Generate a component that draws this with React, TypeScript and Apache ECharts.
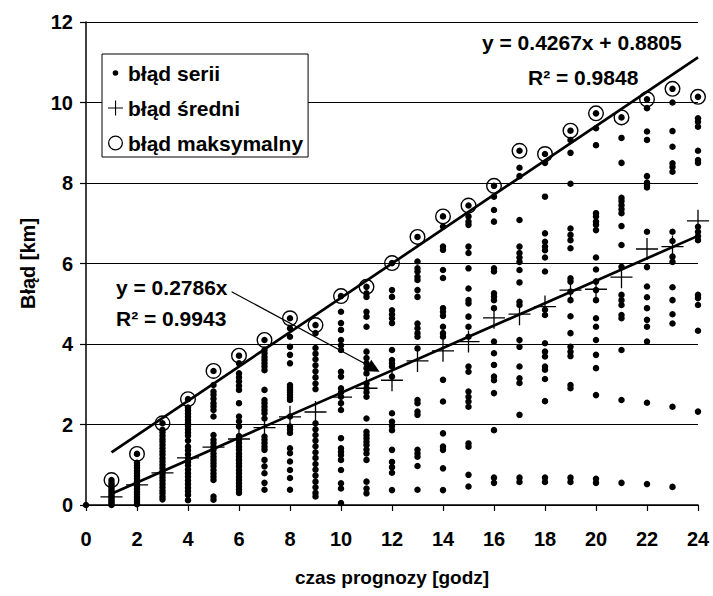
import { useEffect, useRef } from 'react';
import * as echarts from 'echarts';

const FONT = '"Liberation Sans", Arial, Helvetica, sans-serif';

// hours 1..24 (forecast time)
const HOURS = [1, 2, 3, 4, 5, 6, 7, 8, 9, 10, 11, 12, 13, 14, 15, 16, 17, 18, 19, 20, 21, 22, 23, 24];
const X_TICKS = [0, 2, 4, 6, 8, 10, 12, 14, 16, 18, 20, 22, 24];
const Y_TICKS = [0, 2, 4, 6, 8, 10, 12];

// mean error (crosses)
const MEAN_ERR = [0.2, 0.5, 0.8, 1.17, 1.44, 1.64, 1.92, 2.19, 2.31, 2.68, 2.9, 3.1, 3.58, 3.83, 4.06, 4.65, 4.74, 4.93, 5.34, 5.36, 5.66, 6.36, 6.42, 7.06];
// max error (circles)
const MAX_ERR = [0.62, 1.27, 2.03, 2.63, 3.33, 3.71, 4.1, 4.64, 4.47, 5.19, 5.42, 6.01, 6.66, 7.17, 7.44, 7.93, 8.8, 8.72, 9.3, 9.73, 9.63, 10.08, 10.34, 10.14];

// regression lines
const MAX_SLOPE = 0.4267;
const MAX_INTERCEPT = 0.8805;
const MEAN_SLOPE = 0.2786;

// individual series errors (dots), index = hour 0..24
const ERR_BY_HOUR: number[][] = [
  [0],
  [0.55, 0.5, 0.44, 0.38, 0.33, 0.27, 0.22, 0.17, 0.12, 0.08, 0.04, 0.0],
  [1.05, 0.98, 0.92, 0.85, 0.79, 0.72, 0.65, 0.58, 0.52, 0.46, 0.4, 0.33, 0.27, 0.2, 0.14, 0.08, 0.02],
  [1.87, 1.8, 1.72, 1.64, 1.57, 1.49, 1.41, 1.33, 1.25, 1.16, 1.08, 1.0, 0.92, 0.84, 0.76, 0.68, 0.6, 0.52, 0.44, 0.36, 0.29, 0.21, 0.14],
  [2.42, 2.35, 2.27, 2.19, 2.11, 2.04, 1.96, 1.88, 1.8, 1.72, 1.6, 1.45, 1.36, 1.26, 1.16, 1.07, 0.98, 0.88, 0.79, 0.7, 0.61, 0.52, 0.43, 0.34, 0.25, 0.12],
  [2.98, 2.82, 2.74, 2.64, 2.53, 2.45, 2.36, 2.2, 1.74, 1.62, 1.54, 1.45, 1.37, 1.28, 1.2, 1.12, 1.04, 0.96, 0.87, 0.78, 0.7, 0.62, 0.21, 0.13],
  [3.52, 3.27, 3.17, 3.07, 2.96, 2.86, 2.53, 2.2, 2.08, 1.95, 1.71, 1.62, 1.54, 1.45, 1.37, 1.28, 1.2, 1.12, 1.04, 0.96, 0.87, 0.79, 0.7, 0.62, 0.54, 0.46, 0.38, 0.3],
  [3.85, 3.77, 3.68, 3.6, 3.52, 3.44, 3.35, 2.86, 2.61, 2.53, 2.44, 2.36, 2.28, 2.15, 1.7, 1.62, 1.54, 1.45, 1.37, 1.12, 0.96, 0.79, 0.55, 0.38],
  [4.39, 4.18, 3.93, 3.73, 3.52, 2.98, 2.92, 2.86, 2.8, 2.74, 2.67, 2.61, 2.2, 1.95, 1.87, 1.79, 1.41, 1.29, 1.08, 0.87, 0.67, 0.38],
  [4.27, 3.9, 3.76, 3.62, 3.47, 3.32, 3.17, 3.02, 2.88, 2.03, 1.88, 1.74, 1.6, 1.46, 1.31, 1.17, 1.02, 0.88, 0.73, 0.58, 0.44, 0.3, 0.21],
  [4.8, 4.52, 4.35, 4.1, 3.97, 3.85, 3.31, 3.19, 2.9, 2.8, 2.69, 2.53, 2.36, 1.66, 1.41, 1.32, 1.24, 1.12, 0.87, 0.54, 0.41, 0.05],
  [5.26, 5.17, 4.8, 4.68, 4.43, 3.81, 3.65, 3.52, 3.4, 3.27, 3.02, 2.9, 2.8, 2.69, 2.15, 1.82, 1.74, 1.66, 1.57, 1.49, 1.38, 1.28, 1.12, 0.58, 0.41, 0.29],
  [5.34, 5.17, 4.84, 4.74, 4.64, 4.52, 3.85, 3.6, 3.52, 3.44, 3.19, 2.28, 2.07, 1.96, 1.86, 1.37, 1.07, 0.94, 0.8, 0.37],
  [6.05, 5.88, 5.8, 5.67, 5.59, 5.34, 5.17, 4.51, 4.39, 4.27, 4.18, 3.89, 2.61, 2.53, 2.32, 2.24, 1.37, 1.28, 1.2, 0.97, 0.38],
  [6.92, 6.42, 6.34, 5.84, 5.64, 4.89, 4.8, 4.7, 4.43, 4.27, 4.18, 3.11, 2.57, 1.78, 1.45, 1.37, 0.91, 0.37],
  [7.17, 7.04, 6.96, 6.42, 6.26, 5.88, 5.38, 5.09, 5.01, 4.68, 4.43, 4.18, 3.44, 3.31, 2.82, 2.69, 2.57, 2.44, 1.53, 1.45, 0.75, 0.46],
  [7.66, 7.33, 7.04, 5.88, 5.8, 5.26, 5.18, 5.09, 4.89, 4.06, 3.77, 3.48, 3.19, 3.1, 2.78, 1.86, 0.68, 0.55],
  [8.38, 8.17, 7.08, 6.42, 6.26, 6.15, 6.04, 5.84, 5.53, 5.05, 4.97, 4.1, 3.93, 3.44, 3.15, 3.03, 2.24, 0.68, 0.57],
  [8.5, 7.66, 6.75, 6.54, 6.42, 6.33, 6.15, 5.8, 4.85, 4.72, 4.02, 3.81, 3.69, 3.44, 3.36, 3.13, 2.58, 0.68, 0.57],
  [9.07, 8.75, 7.98, 6.87, 6.71, 6.58, 6.38, 5.63, 5.55, 5.3, 5.09, 4.69, 4.27, 3.93, 3.81, 3.7, 2.98, 2.9, 0.68, 0.57],
  [9.36, 8.94, 7.25, 7.17, 7.04, 6.96, 6.83, 6.15, 5.85, 5.55, 5.34, 5.09, 4.64, 4.43, 4.1, 3.73, 3.4, 2.73, 0.65, 0.55],
  [9.12, 8.5, 7.63, 7.55, 7.45, 7.35, 7.25, 6.93, 6.46, 5.92, 5.22, 5.09, 4.97, 4.72, 4.64, 3.85, 2.61, 0.55],
  [9.86, 9.28, 9.07, 8.17, 8.01, 7.95, 7.89, 6.79, 5.91, 5.43, 5.16, 4.89, 4.6, 4.43, 4.06, 2.54, 0.52],
  [10.0, 9.29, 8.9, 8.49, 8.4, 8.28, 6.79, 6.56, 6.17, 6.04, 5.41, 5.09, 4.74, 4.51, 2.44, 0.45],
  [9.61, 9.52, 9.4, 8.8, 8.57, 8.5, 6.91, 6.79, 6.68, 6.58, 5.22, 5.14, 4.97, 4.33, 2.32],
];

// annotation arrow (data coordinates)
const ARROW_FROM = [5.71, 5.3];
const ARROW_TO = [11.29, 3.39];

const CROSS_PATH = 'path://M0,10.35h22v1.3h-22z M10.35,0h1.3v22h-1.3z';
const RING_PATH = 'path://M0,7.5a7.5,7.5 0 1,0 15,0a7.5,7.5 0 1,0 -15,0z M1.3,7.5a6.2,6.2 0 1,1 12.4,0a6.2,6.2 0 1,1 -12.4,0z';
const DOT_ICON = 'path://M0,0h0.05v0.05h-0.05z M15,15h0.05v0.05h-0.05z M4.7,7.5a2.8,2.8 0 1,0 5.6,0a2.8,2.8 0 1,0 -5.6,0z';
const CROSS_ICON = 'path://M0,7h15v1.1h-15z M7,0h1.1v15h-1.1z';

export default function App() {
  const ref = useRef<HTMLDivElement>(null);

  useEffect(() => {
    if (!ref.current) return;
    const chart = echarts.init(ref.current, null, { renderer: 'svg' });

    const dots: number[][] = [];
    ERR_BY_HOUR.forEach((col, h) => col.forEach((v) => dots.push([h, v])));
    HOURS.forEach((h, i) => dots.push([h, MAX_ERR[i]]));

    const meanPts = HOURS.map((h, i) => [h, MEAN_ERR[i]]);
    const maxPts = HOURS.map((h, i) => [h, MAX_ERR[i]]);
    const x0 = HOURS[0];
    const x1 = HOURS[HOURS.length - 1];
    const maxLine = [[x0, MAX_SLOPE * x0 + MAX_INTERCEPT], [x1, MAX_SLOPE * x1 + MAX_INTERCEPT]];
    const meanLine = [[x0, MEAN_SLOPE * x0], [x1, MEAN_SLOPE * x1]];

    const bold = { fontFamily: FONT, fontWeight: 'bold' as const, color: '#000' };

    chart.setOption({
      animation: false,
      backgroundColor: '#fff',
      grid: { left: 86, right: 15, top: 22, bottom: 91, containLabel: false, outerBoundsMode: 'none' },
      xAxis: {
        type: 'value',
        min: X_TICKS[0],
        max: X_TICKS[X_TICKS.length - 1],
        interval: 2,
        name: 'czas prognozy [godz]',
        nameLocation: 'middle',
        nameGap: 63,
        nameTextStyle: { ...bold, fontSize: 19 },
        axisLine: { show: true, lineStyle: { color: '#000', width: 1.5 } },
        axisTick: { show: true, length: 6, lineStyle: { color: '#000', width: 1.2 } },
        axisLabel: { ...bold, fontSize: 20, margin: 24 },
        splitLine: { show: false },
      },
      yAxis: {
        type: 'value',
        min: Y_TICKS[0],
        max: Y_TICKS[Y_TICKS.length - 1],
        interval: 2,
        name: 'Błąd [km]',
        nameLocation: 'middle',
        nameGap: 48,
        nameRotate: 90,
        nameTextStyle: { ...bold, fontSize: 20 },
        axisLine: { show: true, lineStyle: { color: '#000', width: 1.5 } },
        axisTick: { show: true, length: 6, lineStyle: { color: '#000', width: 1.2 } },
        axisLabel: { ...bold, fontSize: 20, margin: 13 },
        splitLine: { show: true, lineStyle: { color: '#000', width: 1 } },
      },
      legend: {
        orient: 'vertical',
        left: 102,
        top: 54,
        padding: [8, 5, 3, 6],
        itemWidth: 15,
        itemHeight: 15,
        itemGap: 13,
        itemTextGap: 8,
        backgroundColor: '#fff',
        borderColor: '#000',
        borderWidth: 1,
        selectedMode: false,
        textStyle: { ...bold, fontSize: 21, lineHeight: 22 },
        itemStyle: { opacity: 1 },
        data: [
          { name: 'błąd serii', icon: DOT_ICON },
          { name: 'błąd średni', icon: CROSS_ICON },
          { name: 'błąd maksymalny', icon: RING_PATH },
        ],
      },
      graphic: [
        { type: 'text', x: 482, y: 42, style: { text: 'y = 0.4267x + 0.8805', font: `bold 21px ${FONT}`, fill: '#000', align: 'left', verticalAlign: 'middle' } },
        { type: 'text', x: 528, y: 77, style: { text: 'R² = 0.9848', font: `bold 21px ${FONT}`, fill: '#000', align: 'left', verticalAlign: 'middle' } },
        { type: 'text', x: 116, y: 287, style: { text: 'y = 0.2786x', font: `bold 21px ${FONT}`, fill: '#000', align: 'left', verticalAlign: 'middle' } },
        { type: 'text', x: 116, y: 318, style: { text: 'R² = 0.9943', font: `bold 21px ${FONT}`, fill: '#000', align: 'left', verticalAlign: 'middle' } },
      ],
      series: [
        {
          name: 'błąd serii',
          type: 'scatter',
          symbol: 'circle',
          symbolSize: 6.5,
          itemStyle: { color: '#000', opacity: 1 },
          data: dots,
          z: 3,
        },
        {
          name: 'błąd średni',
          type: 'scatter',
          symbol: CROSS_PATH,
          symbolSize: 22,
          itemStyle: { color: '#000', opacity: 1 },
          data: meanPts,
          z: 4,
        },
        {
          name: 'błąd maksymalny',
          type: 'scatter',
          symbol: RING_PATH,
          symbolSize: 16,
          itemStyle: { color: '#000', opacity: 1 },
          data: maxPts,
          z: 4,
        },
        {
          name: 'trend max',
          type: 'line',
          data: maxLine,
          symbol: 'none',
          lineStyle: { color: '#000', width: 2.7 },
          z: 5,
        },
        {
          name: 'trend mean',
          type: 'line',
          data: meanLine,
          symbol: 'none',
          lineStyle: { color: '#000', width: 2.7 },
          z: 5,
          markLine: {
            silent: true,
            symbol: ['none', 'triangle'],
            symbolSize: 13,
            label: { show: false },
            lineStyle: { color: '#000', width: 1.2, type: 'solid' },
            itemStyle: { color: '#000' },
            data: [[{ coord: ARROW_FROM }, { coord: ARROW_TO }]],
          },
        },
      ],
    });

    return () => chart.dispose();
  }, []);

  return (
    <div
      ref={ref}
      style={{ position: 'fixed', left: 0, top: 0, width: 713, height: 596, background: '#fff' }}
    />
  );
}
